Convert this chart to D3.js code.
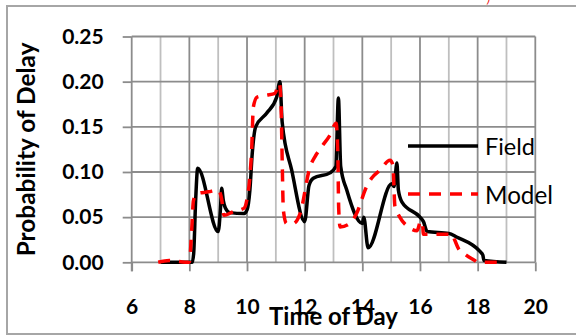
<!DOCTYPE html>
<html>
<head>
<meta charset="utf-8">
<script src="https://cdn.jsdelivr.net/npm/d3@7"></script>
<style>
  html, body { margin: 0; padding: 0; background: #fff; }
  svg { display: block; font-family: Lato, "Open Sans", sans-serif; }
</style>
</head>
<body>
<svg id="chart" width="576" height="336"></svg>
<script>
// ---- data ----
const xTicks = [6, 8, 10, 12, 14, 16, 18, 20];
const yTicks = [0.00, 0.05, 0.10, 0.15, 0.20, 0.25];
const seriesNames = ["Field", "Model"];

const fieldTime = [7.0, 8.1, 8.15, 8.22, 8.29, 9.0, 9.08, 9.12, 9.18, 9.25, 9.4, 9.9, 10.0, 10.1, 10.18, 10.3, 10.68, 11.03, 11.14, 11.22, 11.55, 12.0, 12.15, 12.3, 12.88, 13.08, 13.17, 13.25, 13.46, 14.0, 14.05, 14.2, 15.02, 15.1, 15.2, 15.25, 15.37, 16.0, 16.12, 16.25, 17.0, 17.27, 18.08, 18.18, 18.22, 19.0];
const fieldProb = [0, 0, 0.01, 0.07, 0.104, 0.034, 0.06, 0.082, 0.068, 0.06, 0.055, 0.054, 0.058, 0.08, 0.12, 0.15, 0.165, 0.183, 0.2, 0.155, 0.102, 0.045, 0.085, 0.093, 0.099, 0.106, 0.182, 0.106, 0.08, 0.043, 0.05, 0.016, 0.087, 0.084, 0.11, 0.08, 0.067, 0.05, 0.045, 0.034, 0.032, 0.028, 0.012, 0.008, 0.002, 0];

const modelTime = [6.92, 7.3, 8.0, 8.08, 8.14, 8.25, 8.66, 9.0, 9.12, 9.2, 9.52, 9.9, 10.0, 10.1, 10.16, 10.22, 10.35, 10.68, 10.97, 11.12, 11.18, 11.22, 11.26, 11.37, 11.6, 11.84, 12.19, 12.36, 12.59, 12.88, 13.09, 13.15, 13.18, 13.23, 13.57, 13.8, 14.15, 14.32, 14.61, 14.96, 15.06, 15.13, 15.3, 15.6, 15.9, 16.02, 16.08, 16.12, 17.0, 17.1, 17.2, 17.33, 17.6, 17.9, 18.0, 18.7];
const modelProb = [0, 0.002, 0, 0.035, 0.068, 0.076, 0.078, 0.08, 0.07, 0.052, 0.056, 0.06, 0.07, 0.095, 0.124, 0.172, 0.183, 0.185, 0.187, 0.198, 0.175, 0.113, 0.058, 0.043, 0.043, 0.054, 0.106, 0.117, 0.128, 0.141, 0.154, 0.12, 0.06, 0.039, 0.043, 0.054, 0.084, 0.093, 0.102, 0.113, 0.108, 0.062, 0.05, 0.039, 0.035, 0.045, 0.045, 0.031, 0.031, 0.032, 0.025, 0.0155, 0.008, 0.002, 0, 0];

// ---- layout ----
const svg = d3.select("#chart");
const plot = { left: 131.7, right: 535.3, top: 36.5, bottom: 262.3 };
const x = d3.scaleLinear().domain([6, 20]).range([plot.left, plot.right]);
const y = d3.scaleLinear().domain([0, 0.25]).range([plot.bottom, plot.top]);

// outer frame
svg.append("rect")
  .attr("x", 7).attr("y", 6).attr("width", 600).attr("height", 328)
  .attr("fill", "none").attr("stroke", "#a6a6a6").attr("stroke-width", 2);

// fragment of red text cut at the top
svg.append("text").attr("x", 487).attr("y", 3)
  .attr("fill", "#e00").attr("font-size", 12).attr("font-style", "italic")
  .text(")");

// grid: vertical at each integer hour
const gx = d3.range(7, 21);
svg.append("g").selectAll("line").data(gx).join("line")
  .attr("x1", d => x(d)).attr("x2", d => x(d))
  .attr("y1", plot.top).attr("y2", plot.bottom)
  .attr("stroke", d => d % 2 === 0 ? "#8c8c8c" : "#bfbfbf")
  .attr("stroke-width", 1.8);

// grid: horizontal
svg.append("g").selectAll("line").data(yTicks.filter(d => d > 0)).join("line")
  .attr("x1", plot.left).attr("x2", plot.right)
  .attr("y1", d => y(d)).attr("y2", d => y(d))
  .attr("stroke", "#8c8c8c").attr("stroke-width", 1.8);

// axes
const xAxis = d3.axisBottom(x).tickValues(xTicks).tickSize(9).tickPadding(22).tickFormat(d3.format("d"));
const gX = svg.append("g").attr("transform", `translate(0,${plot.bottom})`).call(xAxis);
const yAxis = d3.axisLeft(y).tickValues(yTicks).tickSize(9).tickPadding(19).tickFormat(d3.format(".2f"));
const gY = svg.append("g").attr("transform", `translate(${plot.left},0)`).call(yAxis);
[gX, gY].forEach(g => {
  g.select(".domain").remove();
  g.selectAll(".tick line").attr("stroke", "#8c8c8c").attr("stroke-width", 1.8);
  g.selectAll(".tick text").attr("font-family", "Lato, sans-serif")
    .attr("font-weight", "bold").attr("font-size", 21).attr("fill", "#000");
});
gX.selectAll(".tick text").attr("dy", "0").attr("dominant-baseline", "central");
// axis lines
svg.append("line").attr("x1", plot.left).attr("x2", plot.right)
  .attr("y1", plot.bottom).attr("y2", plot.bottom)
  .attr("stroke", "#8c8c8c").attr("stroke-width", 1.8);
svg.append("line").attr("x1", plot.left).attr("x2", plot.left)
  .attr("y1", plot.top).attr("y2", plot.bottom + 9)
  .attr("stroke", "#8c8c8c").attr("stroke-width", 1.8);

// place x tick labels at fixed y centre
gX.selectAll(".tick text").attr("y", 43);

// series
const line = d3.line().x(d => x(d[0])).y(d => y(d[1])).curve(d3.curveMonotoneX);
const fieldData = fieldTime.map((t, i) => [t, fieldProb[i]]);
const modelData = modelTime.map((t, i) => [t, modelProb[i]]);

svg.append("path").datum(fieldData).attr("d", line)
  .attr("fill", "none").attr("stroke", "#000").attr("stroke-width", 3.5)
  .attr("stroke-linejoin", "round");
svg.append("path").datum(modelData).attr("d", line)
  .attr("fill", "none").attr("stroke", "#ff0000").attr("stroke-width", 3.5)
  .attr("stroke-dasharray", "12,9").attr("stroke-linejoin", "round");

// axis titles
function fit(sel, target) {
  const len = sel.node().getComputedTextLength();
  const fs = parseFloat(sel.attr("font-size"));
  sel.attr("font-size", fs * target / len);
}
const xt = svg.append("text").attr("x", (plot.left + plot.right) / 2).attr("y", 325)
  .attr("text-anchor", "middle").attr("font-weight", "bold").attr("font-size", 20)
  .text("Time of Day");
fit(xt, 129);
const yt = svg.append("text")
  .attr("transform", `translate(35,${(plot.top + plot.bottom) / 2}) rotate(-90)`)
  .attr("text-anchor", "middle").attr("font-weight", "bold").attr("font-size", 19)
  .text("Probability of Delay");
fit(yt, 214);

// legend
const legY = [146, 194];
const legend = svg.append("g");
seriesNames.forEach((name, i) => {
  legend.append("line").attr("x1", 408).attr("x2", 478)
    .attr("y1", legY[i]).attr("y2", legY[i])
    .attr("stroke", i === 0 ? "#000" : "#ff0000").attr("stroke-width", 3.5)
    .attr("stroke-dasharray", i === 0 ? null : "12,9");
  const t = legend.append("text").attr("x", 485).attr("y", legY[i])
    .attr("dominant-baseline", "central").attr("font-size", 22).attr("fill", "#000")
    .text(name);
  fit(t, i === 0 ? 50 : 68);
});
</script>
</body>
</html>
